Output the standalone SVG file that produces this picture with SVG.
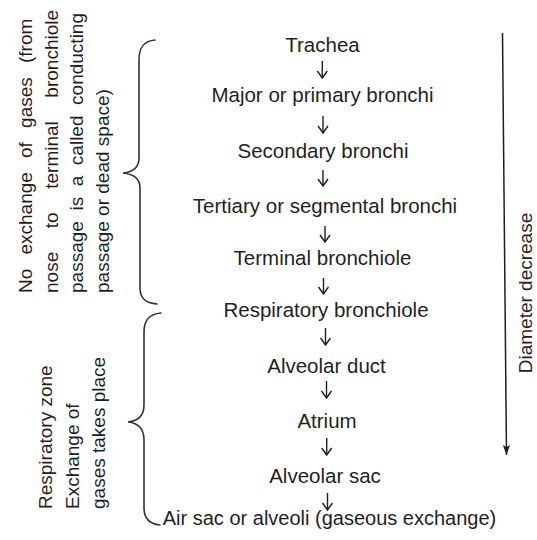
<svg xmlns="http://www.w3.org/2000/svg" width="537" height="540" viewBox="0 0 537 540">
  <style>
    .t { font-family: "Liberation Sans", Arial, sans-serif; font-size: 20.5px; fill: #1f1f1f; text-anchor: middle; }
    .v { font-family: "Liberation Sans", Arial, sans-serif; font-size: 19px; fill: #1f1f1f; }
    .d { font-family: "Liberation Sans", Arial, sans-serif; font-size: 19px; fill: #1f1f1f; text-anchor: middle; }
    .a { stroke: #1f1f1f; stroke-width: 1.4; fill: none; }
    .b { stroke: #333; stroke-width: 1.6; fill: none; stroke-linecap: round; }
  </style>
  <defs>
    <marker id="v" markerUnits="userSpaceOnUse" markerWidth="12" markerHeight="12" refX="7" refY="0" viewBox="-1 -6 9 12" orient="auto" overflow="visible">
      <path d="M0,-5 L7,0 L0,5" stroke="#1f1f1f" stroke-width="1.4" fill="none"/>
    </marker>
    <marker id="f" markerUnits="userSpaceOnUse" markerWidth="14" markerHeight="10" refX="10" refY="0" viewBox="0 -5 11 10" orient="auto" overflow="visible">
      <path d="M0,-3.6 L10,0 L0,3.6 L2,0 Z" fill="#1f1f1f"/>
    </marker>
  </defs>
  <rect width="537" height="540" fill="#ffffff"/>

  <g id="n-trachea"><text class="t" x="322.5" y="52">Trachea</text></g>
  <g id="n-primary"><text class="t" x="322.5" y="102">Major or primary bronchi</text></g>
  <g id="n-secondary"><text class="t" x="323" y="158">Secondary bronchi</text></g>
  <g id="n-tertiary"><text class="t" x="325" y="213">Tertiary or segmental bronchi</text></g>
  <g id="n-terminal"><text class="t" x="322.5" y="265">Terminal bronchiole</text></g>
  <g id="n-respiratory"><text class="t" x="326" y="317">Respiratory bronchiole</text></g>
  <g id="n-duct"><text class="t" x="326.5" y="373">Alveolar duct</text></g>
  <g id="n-atrium"><text class="t" x="327" y="428">Atrium</text></g>
  <g id="n-sac"><text class="t" x="325" y="483">Alveolar sac</text></g>
  <g id="n-alveoli"><text class="t" x="329.5" y="525" style="font-size:20px">Air sac or alveoli (gaseous exchange)</text></g>

  <g id="connectors">
    <line class="a" x1="322.3" y1="61" x2="322.3" y2="78" marker-end="url(#v)"/>
    <line class="a" x1="323" y1="116" x2="323" y2="133" marker-end="url(#v)"/>
    <line class="a" x1="323" y1="170" x2="323" y2="186" marker-end="url(#v)"/>
    <line class="a" x1="325" y1="226" x2="325" y2="242" marker-end="url(#v)"/>
    <line class="a" x1="323.5" y1="278" x2="323.5" y2="294" marker-end="url(#v)"/>
    <line class="a" x1="325.5" y1="328" x2="325.5" y2="345" marker-end="url(#v)"/>
    <line class="a" x1="326.5" y1="381" x2="326.5" y2="398" marker-end="url(#v)"/>
    <line class="a" x1="326.7" y1="438" x2="326.7" y2="455" marker-end="url(#v)"/>
    <line class="a" x1="327.5" y1="493" x2="327.5" y2="510" marker-end="url(#v)"/>
  </g>

  <g id="diameter">
    <line x1="502.5" y1="33" x2="506.5" y2="455" stroke="#1f1f1f" stroke-width="1.5" marker-end="url(#f)"/>
    <text class="d" transform="translate(532,293) rotate(-90)">Diameter decrease</text>
  </g>

  <g id="brace-conducting">
    <path class="b" d="M155,40 C143,41 139,48 139,60 L139,158 C139,168 133,172 123,173 C133,174 140,178 140,188 L140,288 C140,298 145,303 157,304"/>
  </g>
  <g id="label-conducting" class="v">
    <text transform="translate(32,293) rotate(-90)" word-spacing="8.9">No exchange of gases (from</text>
    <text transform="translate(57.5,293) rotate(-90)" word-spacing="18.3">nose to terminal bronchiole</text>
    <text transform="translate(83,293) rotate(-90)" word-spacing="5.3">passage is a called conducting</text>
    <text transform="translate(108.5,293) rotate(-90)">passage or dead space)</text>
  </g>

  <g id="brace-respiratory">
    <path class="b" d="M161,313 C149,314 144,320 144,332 L144,405 C144,416 138,421 128,422 C138,423 144,428 144,440 L144,508 C144,519 150,524 160,525"/>
  </g>
  <g id="label-respiratory" class="v">
    <text transform="translate(52,509) rotate(-90)">Respiratory zone</text>
    <text transform="translate(78.5,509) rotate(-90)">Exchange of</text>
    <text transform="translate(105,509) rotate(-90)">gases takes place</text>
  </g>
</svg>
